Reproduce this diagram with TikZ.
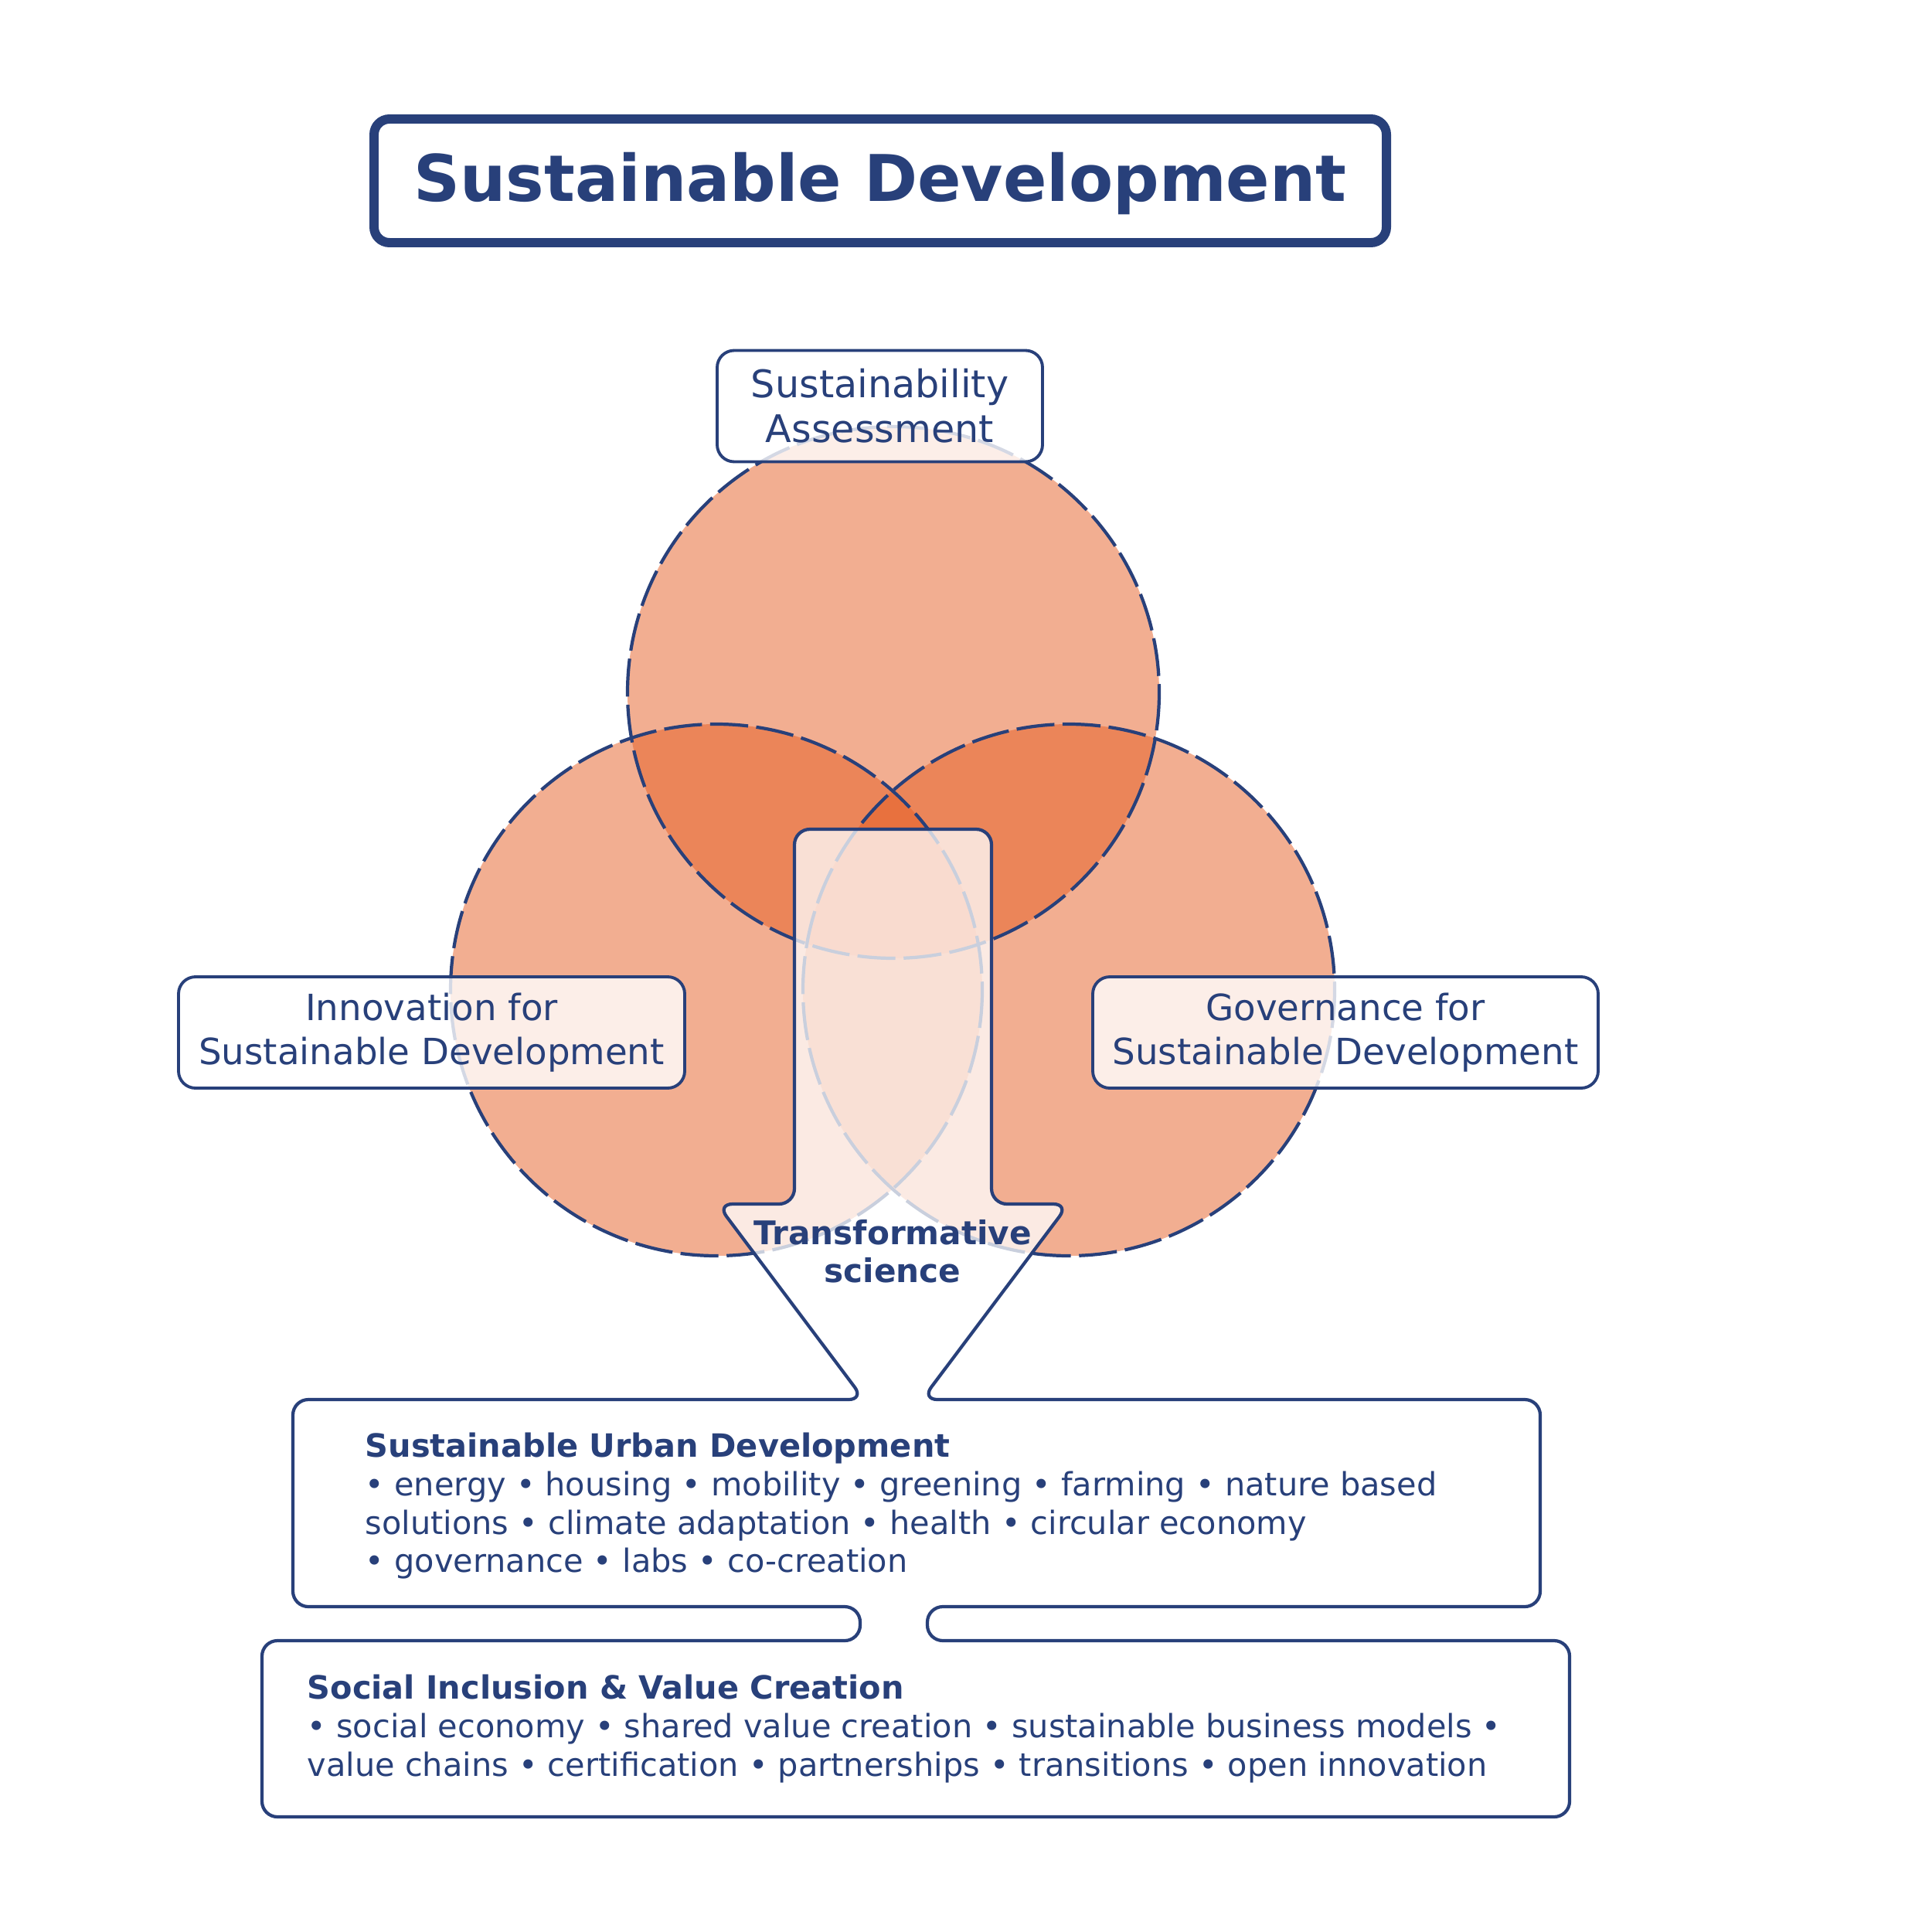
\documentclass[tikz,border=0pt]{standalone}
\usepackage{fontspec}
\setmainfont{DejaVu Sans}
\usetikzlibrary{positioning}
\definecolor{navy}{HTML}{28407A}
\definecolor{salmon}{HTML}{E55D23}

\begin{document}
\begin{tikzpicture}[x=1cm,y=-1cm,%
circfill/.style={fill=salmon,fill opacity=0.5},
circline/.style={draw=navy,line width=1.2pt,dash pattern=on 14pt off 3pt},
label/.style={draw=navy,line width=1.1pt,rounded corners=0.22cm,fill=white,fill opacity=0.8,text opacity=1,text=navy,align=center,inner sep=0pt,minimum height=1.44cm,font=\fontsize{13.3}{16.2}\selectfont},
title/.style={draw=navy,line width=3.4pt,rounded corners=0.2cm,fill=white,text=navy,minimum width=13.1cm,minimum height=1.6cm,font=\fontsize{23.7}{28}\selectfont\bfseries},
flow/.style={draw=navy,line width=1.2pt,rounded corners=0.2cm,fill=white,fill opacity=0.75},
body/.style={text=navy,align=left,inner sep=0pt,font=\fontsize{11.8}{14.2}\selectfont}
]
\useasboundingbox (0,0) rectangle (25,25);

% title
\node[style=title,text depth=0.1cm] (title) at (11.39,2.34) {Sustainable Development};

% three circles
\path[style=circfill] (11.56,8.96) circle (3.44);
\path[style=circfill] (9.27,12.81) circle (3.44);
\path[style=circfill] (13.83,12.81) circle (3.44);
\path[style=circline] (11.56,8.96) circle (3.44);
\path[style=circline] (9.27,12.81) circle (3.44);
\path[style=circline] (13.83,12.81) circle (3.44);

% arrow into the two boxes
\path[style=flow] (10.28,10.73) -- (12.83,10.73) -- (12.83,15.58) -- (13.83,15.58)
  -- (11.93,18.11) -- (19.93,18.11) -- (19.93,20.79) -- (12.00,20.79)
  -- (12.00,21.23) -- (20.31,21.23) -- (20.31,23.51) -- (3.39,23.51)
  -- (3.39,21.23) -- (11.13,21.23) -- (11.13,20.79) -- (3.79,20.79)
  -- (3.79,18.11) -- (11.18,18.11) -- (9.28,15.58) -- (10.28,15.58) -- cycle;

\node[text=navy,align=center,font=\fontsize{12}{14}\selectfont\bfseries] (transf) at (11.55,16.19) {Transformative\\science};

% labels
\node[style=label,minimum width=4.21cm,font=\fontsize{14}{16.5}\selectfont] (assess) at (11.385,5.255) {Sustainability\\Assessment};
\node[style=label,minimum width=6.55cm] (innov) at (5.585,13.36) {Innovation for\\Sustainable Development};
\node[style=label,minimum width=6.54cm] (gov) at (17.41,13.36) {Governance for\\Sustainable Development};

% box texts
\node[style=body,anchor=north west] (urban) at (4.72,18.53) {\textbf{Sustainable Urban Development}\\
• energy • housing • mobility • greening • farming • nature based\\
solutions • climate adaptation • health • circular economy\\
• governance • labs • co-creation};
\node[style=body,anchor=north west] (social) at (3.97,21.66) {\textbf{Social Inclusion \& Value Creation}\\
• social economy • shared value creation • sustainable business models •\\
value chains • certification • partnerships • transitions • open innovation};
\end{tikzpicture}
\end{document}
